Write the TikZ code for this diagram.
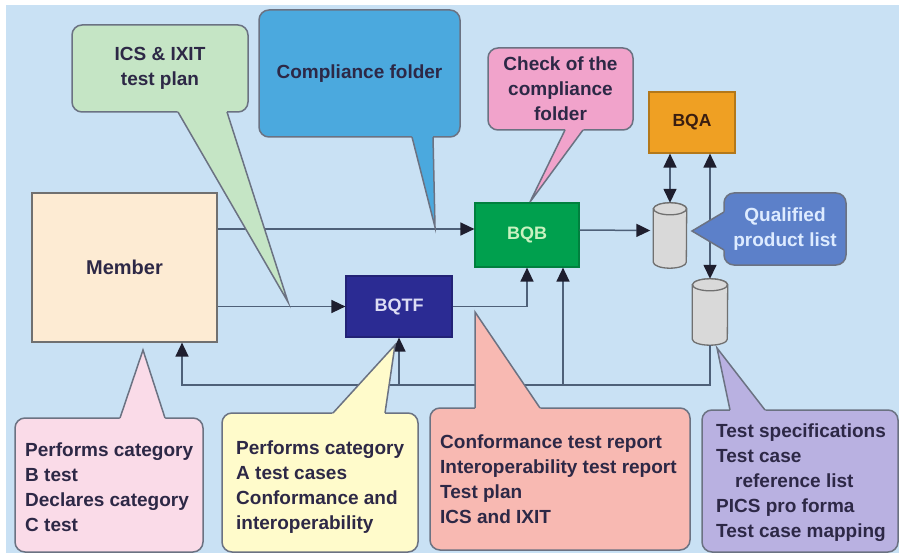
\documentclass[tikz,border=0pt]{standalone}
\usepackage{fontspec}
\setmainfont{Liberation Sans}
\usetikzlibrary{arrows.meta,calc}
\definecolor{cBg}{HTML}{C9E1F4}
\definecolor{cMember}{HTML}{FDEBD3}
\definecolor{cGreen}{HTML}{C5E5C5}
\definecolor{cBlue}{HTML}{4BA9DE}
\definecolor{cPinkT}{HTML}{F1A3CB}
\definecolor{cBQB}{HTML}{00A04E}
\definecolor{cBQTF}{HTML}{2B2B93}
\definecolor{cBQA}{HTML}{EFA023}
\definecolor{cCyl}{HTML}{D9D9D9}
\definecolor{cCylS}{HTML}{707070}
\definecolor{cQual}{HTML}{5C80C9}
\definecolor{cQualT}{HTML}{DDEBFF}
\definecolor{cPinkB}{HTML}{FADBE8}
\definecolor{cYellow}{HTML}{FFFBCB}
\definecolor{cSalmon}{HTML}{F8B9B2}
\definecolor{cPurple}{HTML}{B9B1E1}
\definecolor{cBorder}{HTML}{6B7282}
\definecolor{cLine}{HTML}{4E6078}
\definecolor{cArrow}{HTML}{1E1E2E}
\definecolor{cText}{HTML}{2D2846}
\definecolor{cBQBT}{HTML}{C8F2C0}
\definecolor{cBQTFT}{HTML}{DCDCF4}
\definecolor{cBQAT}{HTML}{3A1E10}
\newcommand\btail[4]{%
  \fill[#1] ($#2!-4pt!#3$) -- #3 -- ($#4!-4pt!#3$) -- cycle;
  \draw[bline] #2 -- #3 -- #4;}
\newcommand\drawcyl[2]{% node name, x radius
  \filldraw[cylline] ([yshift=-6pt]#1.north west) -- ([yshift=6pt]#1.south west)
    arc[start angle=180, end angle=360, x radius=#2, y radius=6pt]
    -- ([yshift=-6pt]#1.north east)
    arc[start angle=0, end angle=180, x radius=#2, y radius=6pt] -- cycle;
  \draw[cylline] ([yshift=-6pt]#1.north) ellipse[x radius=#2, y radius=6pt];}
\begin{document}
\begin{tikzpicture}[x=1pt,y=-1pt,
  txt/.style={font=\bfseries\fontsize{19}{25}\selectfont, text=cText},
  boxtxt/.style={font=\bfseries\fontsize{18}{22}\selectfont},
  box/.style={draw, line width=1.2pt, inner sep=0pt},
  bubble/.style={draw=cBorder, line width=1.5pt, rounded corners=10pt, inner sep=0pt},
  link/.style={draw=cLine, line width=1.5pt},
  arrowtip/.tip={Triangle[length=14pt,width=13pt,color=cArrow]},
  tip/.style={-arrowtip},
  dtip/.style={arrowtip-arrowtip},
  bline/.style={draw=cBorder, line width=1.5pt, line join=miter},
  cylline/.style={draw=cCylS, fill=cCyl, line width=1.3pt},
  cylnode/.style={shape=rectangle, inner sep=0pt, draw=none}
]
\useasboundingbox (0,0) rectangle (899,556);
\fill[cBg] (6,5) rectangle (899,553);

% boxes
\node[box, draw=cCylS, fill=cMember, minimum width=185pt, minimum height=149pt, font=\bfseries\fontsize{20}{24}\selectfont, text=cText] (member) at (124.5,267.5) {Member};
\node[box, draw=cBQB!80!black, fill=cBQB, minimum width=104pt, minimum height=64pt, boxtxt, text=cBQBT] (bqb) at (527,235) {BQB};
\node[box, draw=cBQTF!80!black, fill=cBQTF, minimum width=106pt, minimum height=61pt, boxtxt, text=cBQTFT] (bqtf) at (399,306.5) {BQTF};
\node[box, draw=cBQA!75!black, fill=cBQA, minimum width=86pt, minimum height=61pt, boxtxt, font=\bfseries\fontsize{17.5}{22}\selectfont, text=cBQAT] (bqa) at (692,122.5) {BQA};
\node[cylnode, minimum width=33pt, minimum height=65pt] (cyl1) at (670,235.5) {};
\node[cylnode, minimum width=35pt, minimum height=66pt] (cyl2) at (710,312) {};
\drawcyl{cyl1}{16.5pt}
\drawcyl{cyl2}{17.5pt}

% connectors
\coordinate (topIn) at ([yshift=6pt]bqb.west);
\draw[link,tip] (member.east |- topIn) -- (topIn);
\draw[link,tip] (member.east |- bqtf.west) -- (bqtf.west);
\draw[link,tip] (bqtf.east) -| (bqb.south);
\draw[link,tip] ([yshift=5pt]bqb.east) -- ([yshift=5pt,xshift=-3pt]cyl1.west);
\coordinate (loopL) at (182,385);
\coordinate (loopM) at (563,385);
\draw[link,tip] (cyl2.south) |- (loopL) -- (loopL |- member.south);
\draw[link,tip] (bqtf.south |- loopL) -- (bqtf.south);
\draw[link,tip] (loopM) -- (loopM |- bqb.south);
\draw[link,dtip] (bqa.south -| cyl1.north) -- (cyl1.north);
\draw[link,dtip] (bqa.south -| cyl2.north) -- (cyl2.north);

% bubbles
\node[bubble, fill=cGreen, minimum width=176pt, minimum height=87pt, txt, align=center] (ics) at (160,68.5) {ICS \& IXIT\\test plan};
\coordinate (tIcs) at (288,302);
\btail{cGreen}{(178,112)}{(tIcs)}{(227,112)}

\node[bubble, fill=cBlue, minimum width=201pt, minimum height=127pt, txt, align=center] (comp) at (359.5,73.5) {Compliance folder};
\coordinate (tComp) at (435,227);
\btail{cBlue}{(412,137)}{(tComp)}{(433,137)}

\node[bubble, fill=cPinkT, minimum width=145pt, minimum height=82pt, txt, align=center] (check) at (560.5,89) {Check of the\\compliance\\folder};
\coordinate (tCheck) at (530,202);
\btail{cPinkT}{(565,130)}{(tCheck)}{(583,130)}

\node[bubble, fill=cQual, minimum width=122pt, minimum height=72pt, txt, text=cQualT, align=center] (qual) at (785,229) {Qualified\\product list};
\coordinate (tQual) at (692,231);
\btail{cQual}{(724,212)}{(tQual)}{(724,250)}

\node[bubble, fill=cPinkB, minimum width=188pt, minimum height=134pt] (pinkb) at (109,485) {};
\coordinate (tPinkb) at (143,350);
\btail{cPinkB}{(120,418)}{(tPinkb)}{(165,418)}
\node[txt, anchor=west, align=left, inner sep=0pt] (pinkbT) at (25,487) {Performs category\\B test\\Declares category\\C test};

\node[bubble, fill=cYellow, minimum width=196pt, minimum height=139pt] (yel) at (320,482.5) {};
\coordinate (tYel) at (395,345);
\btail{cYellow}{(333,413)}{(tYel)}{(385,413)}
\node[txt, anchor=west, align=left, inner sep=0pt] (yelT) at (236,487) {Performs category\\A test cases\\Conformance and\\interoperability};

\node[bubble, fill=cSalmon, minimum width=260pt, minimum height=142pt] (sal) at (560,479) {};
\coordinate (tSal) at (475,312);
\btail{cSalmon}{(475,408)}{(tSal)}{(540,408)}
\node[txt, anchor=west, align=left, inner sep=0pt] (salT) at (440,479) {Conformance test report\\Interoperability test report\\Test plan\\ICS and IXIT};

\node[bubble, fill=cPurple, minimum width=196pt, minimum height=142pt] (pur) at (800,481) {};
\coordinate (tPur) at (717,348);
\btail{cPurple}{(730,410)}{(tPur)}{(765,410)}
\node[txt, anchor=west, align=left, inner sep=0pt] (purT) at (716,483) {Test specifications\\Test case\\\hspace*{19pt}reference list\\PICS pro forma\\Test case mapping};
\end{tikzpicture}
\end{document}
